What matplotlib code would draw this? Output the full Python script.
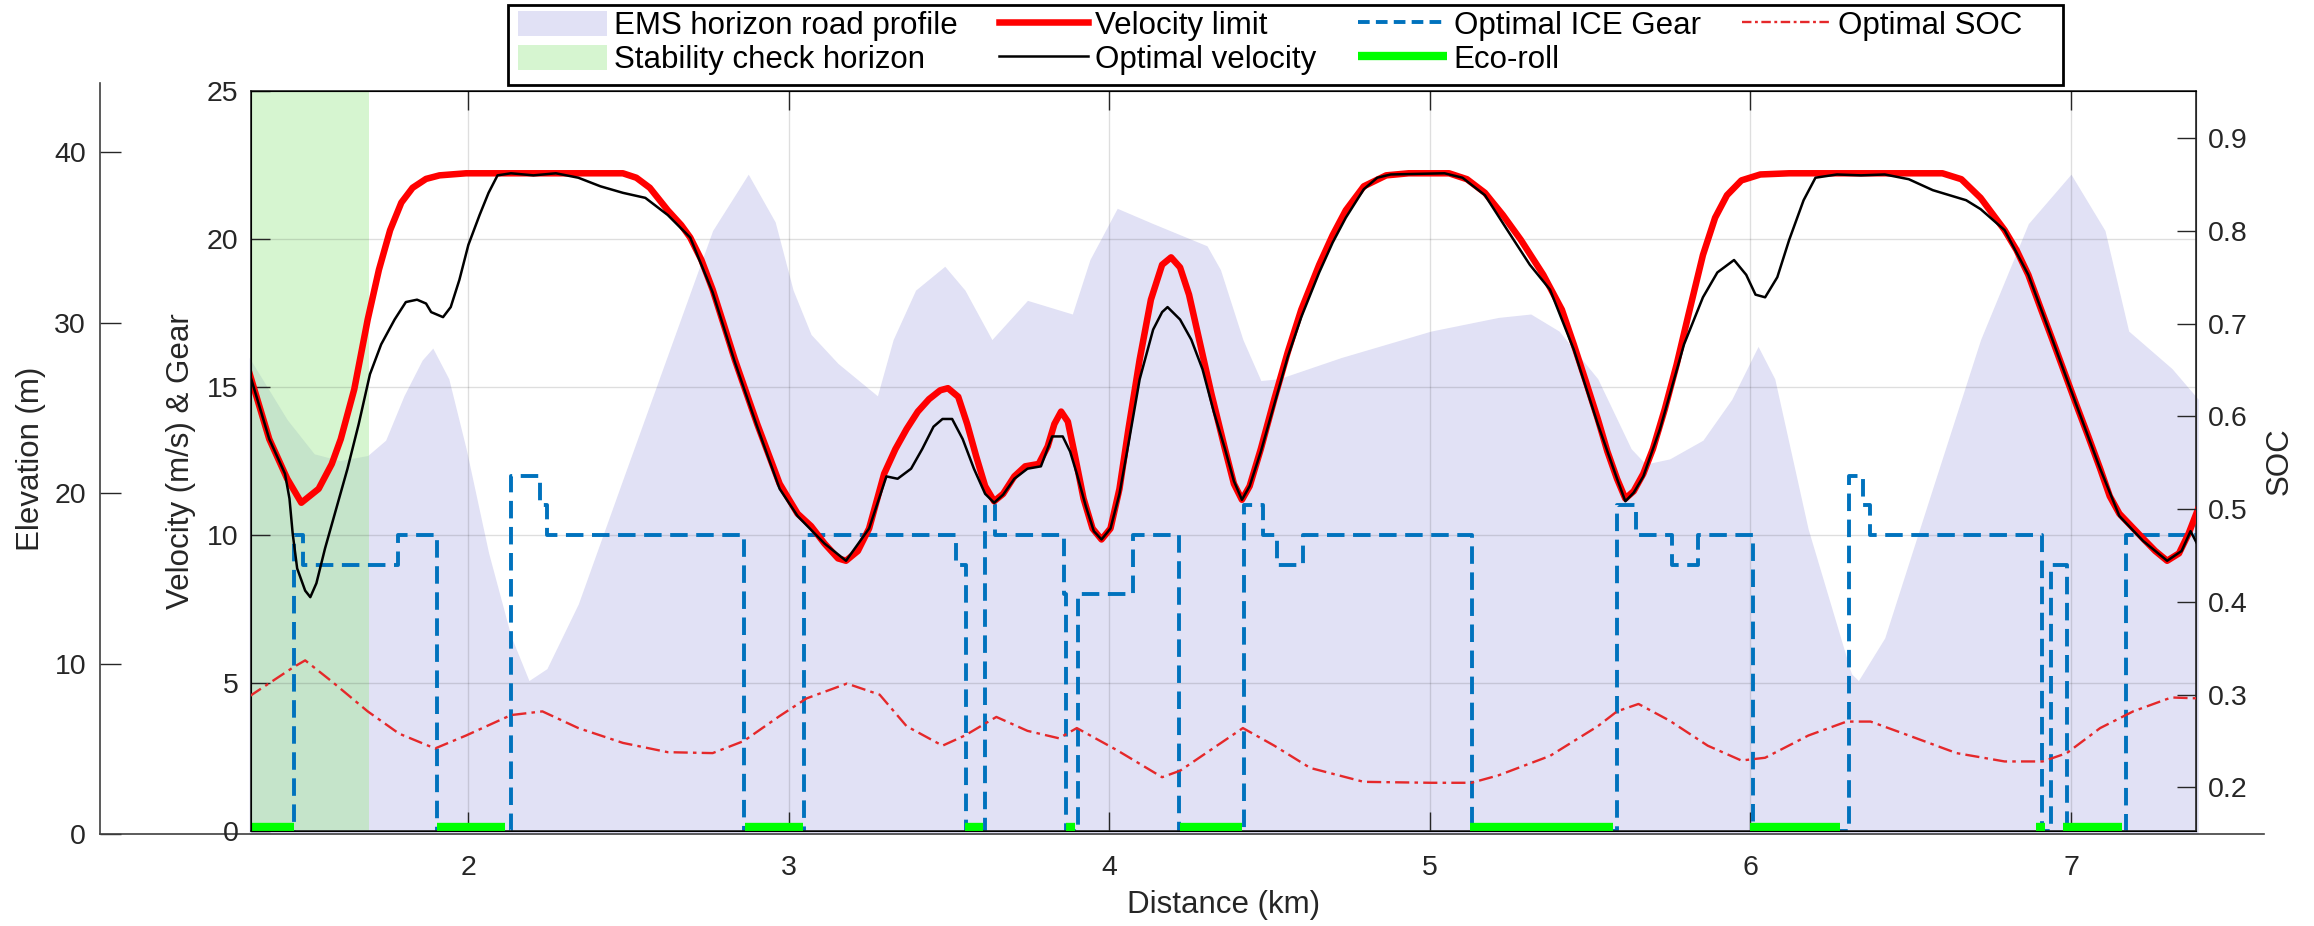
import matplotlib
matplotlib.use('Agg')
import matplotlib.pyplot as plt
from matplotlib.patches import Patch, Rectangle
from matplotlib.lines import Line2D

plt.rcParams['font.family'] = ['Liberation Sans', 'DejaVu Sans']

# ---- data ----
# road profile (km, m)
elev_km = [1.317, 1.436, 1.52, 1.60, 1.687, 1.743, 1.80, 1.857, 1.89, 1.94, 1.994, 2.064, 2.134,
           2.19, 2.246, 2.344, 2.483, 2.623, 2.763, 2.874, 2.958, 3.014, 3.07, 3.154, 3.277,
           3.326, 3.396, 3.487, 3.55, 3.634, 3.745, 3.885, 3.94, 4.025, 4.137, 4.305, 4.347,
           4.417, 4.473, 4.529, 4.724, 5.004, 5.214, 5.315, 5.403, 5.524, 5.628, 5.673, 5.748,
           5.852, 5.942, 6.024, 6.076, 6.18, 6.315, 6.337, 6.419, 6.569, 6.718, 6.867, 7.0,
           7.106, 7.18, 7.315, 7.397]
elev_m = [27.95, 24.3, 22.3, 21.9, 22.2, 23.1, 25.7, 27.8, 28.5, 26.7, 22.6, 16.5, 11.6,
          9.0, 9.7, 13.5, 20.8, 28.1, 35.4, 38.7, 35.9, 31.9, 29.3, 27.6, 25.7,
          29.0, 31.9, 33.3, 31.9, 29.0, 31.3, 30.5, 33.7, 36.7, 35.8, 34.5, 33.1,
          29.0, 26.6, 26.7, 27.95, 29.5, 30.3, 30.5, 29.5, 26.7, 22.6, 21.7, 22.0,
          23.1, 25.5, 28.6, 26.7, 17.9, 9.4, 9.0, 11.5, 20.3, 29.0, 35.8, 38.7,
          35.4, 29.5, 27.3, 25.5]

# velocity limit (km, m/s)
vlim_km = [1.317, 1.38, 1.436, 1.48, 1.534, 1.575, 1.603, 1.645, 1.687, 1.722, 1.757, 1.792,
           1.827, 1.869, 1.911, 1.994, 2.483, 2.525, 2.567, 2.623, 2.665, 2.693, 2.728, 2.763,
           2.798, 2.832, 2.867, 2.902, 2.937, 2.972, 3.028, 3.07, 3.112, 3.154, 3.179, 3.216,
           3.251, 3.298, 3.333, 3.368, 3.403, 3.438, 3.473, 3.497, 3.529, 3.557, 3.585, 3.613,
           3.641, 3.669, 3.704, 3.738, 3.78, 3.808, 3.829, 3.85, 3.871, 3.892, 3.92, 3.948,
           3.976, 4.004, 4.032, 4.06, 4.095, 4.13, 4.165, 4.193, 4.221, 4.249, 4.284, 4.319,
           4.361, 4.389, 4.414, 4.438, 4.473, 4.515, 4.557, 4.599, 4.655, 4.697, 4.738, 4.794,
           4.864, 4.934, 5.06, 5.116, 5.172, 5.228, 5.284, 5.354, 5.412, 5.449, 5.487, 5.524,
           5.554, 5.584, 5.61, 5.636, 5.666, 5.696, 5.733, 5.77, 5.807, 5.852, 5.89, 5.927,
           5.972, 6.031, 6.121, 6.599, 6.658, 6.718, 6.793, 6.83, 6.867, 6.904, 6.942, 6.979,
           7.016, 7.054, 7.091, 7.121, 7.151, 7.188, 7.225, 7.263, 7.3, 7.337, 7.367, 7.397]
vlim = [15.51, 13.24, 11.9, 11.09, 11.56, 12.4, 13.24, 14.92, 17.28, 18.96, 20.3, 21.23,
        21.73, 22.03, 22.15, 22.22, 22.22, 22.07, 21.73, 20.97, 20.47, 20.05, 19.29, 18.29,
        17.1, 15.93, 14.84, 13.75, 12.74, 11.73, 10.72, 10.3, 9.71, 9.21, 9.13, 9.46,
        10.22, 12.07, 12.9, 13.58, 14.17, 14.59, 14.89, 14.96, 14.67, 13.75, 12.66, 11.65,
        11.14, 11.39, 11.98, 12.32, 12.4, 12.99, 13.75, 14.17, 13.83, 12.74, 11.23, 10.22,
        9.85, 10.22, 11.56, 13.58, 15.93, 17.95, 19.13, 19.38, 19.04, 18.12, 16.44, 14.76,
        12.91, 11.73, 11.19, 11.65, 12.91, 14.59, 16.18, 17.61, 19.13, 20.13, 20.97, 21.78,
        22.15, 22.22, 22.22, 22.02, 21.56, 20.81, 19.97, 18.79, 17.61, 16.44, 15.18, 13.92,
        12.82, 11.9, 11.23, 11.48, 12.07, 12.91, 14.25, 15.76, 17.45, 19.46, 20.72, 21.48,
        21.98, 22.18, 22.22, 22.22, 22.02, 21.39, 20.3, 19.63, 18.79, 17.7, 16.6, 15.51,
        14.42, 13.33, 12.24, 11.31, 10.72, 10.3, 9.88, 9.46, 9.13, 9.38, 10.05, 10.89]

# optimal velocity (km, m/s)
vopt_km = [1.317, 1.38, 1.429, 1.443, 1.453, 1.467, 1.492, 1.508, 1.527, 1.554, 1.589, 1.624,
           1.659, 1.694, 1.729, 1.771, 1.806, 1.841, 1.869, 1.885, 1.922, 1.946, 1.973, 2.001,
           2.036, 2.064, 2.092, 2.134, 2.204, 2.274, 2.344, 2.413, 2.483, 2.553, 2.623, 2.693,
           2.763, 2.832, 2.902, 2.972, 3.028, 3.112, 3.179, 3.251, 3.305, 3.34, 3.382, 3.417,
           3.452, 3.48, 3.51, 3.543, 3.578, 3.613, 3.641, 3.669, 3.704, 3.745, 3.787, 3.822,
           3.855, 3.878, 3.899, 3.927, 3.952, 3.976, 4.004, 4.032, 4.06, 4.095, 4.137, 4.165,
           4.182, 4.221, 4.256, 4.291, 4.326, 4.361, 4.389, 4.414, 4.438, 4.473, 4.515, 4.557,
           4.599, 4.655, 4.697, 4.738, 4.794, 4.836, 4.878, 5.046, 5.102, 5.172, 5.242, 5.312,
           5.375, 5.449, 5.524, 5.584, 5.61, 5.636, 5.666, 5.718, 5.793, 5.852, 5.897, 5.949,
           5.987, 6.016, 6.046, 6.084, 6.121, 6.166, 6.203, 6.27, 6.345, 6.419, 6.494, 6.569,
           6.673, 6.718, 6.793, 6.867, 6.942, 7.016, 7.091, 7.151, 7.225, 7.3, 7.345, 7.373, 7.397]
vopt = [15.51, 13.24, 12.07, 11.23, 10.05, 8.87, 8.12, 7.9, 8.37, 9.55, 10.89, 12.24,
        13.75, 15.43, 16.44, 17.28, 17.87, 17.95, 17.82, 17.53, 17.36, 17.7, 18.62, 19.8,
        20.81, 21.56, 22.15, 22.22, 22.15, 22.22, 22.07, 21.78, 21.56, 21.39, 20.81, 20.05,
        18.2, 15.85, 13.66, 11.56, 10.64, 9.71, 9.13, 10.22, 11.98, 11.9, 12.24, 12.91,
        13.66, 13.92, 13.92, 13.24, 12.24, 11.39, 11.09, 11.36, 11.9, 12.24, 12.32, 13.33,
        13.33, 12.82, 12.07, 10.97, 10.13, 9.85, 10.22, 11.39, 13.08, 15.26, 16.94, 17.53,
        17.7, 17.28, 16.6, 15.6, 14.17, 12.91, 11.82, 11.19, 11.65, 12.82, 14.42, 16.02,
        17.36, 18.87, 19.88, 20.72, 21.68, 22.07, 22.18, 22.22, 22.07, 21.48, 20.3, 19.13,
        18.29, 16.27, 13.75, 11.9, 11.14, 11.43, 11.98, 13.58, 16.44, 18.03, 18.87, 19.29,
        18.79, 18.12, 18.03, 18.71, 19.97, 21.31, 22.07, 22.18, 22.15, 22.18, 22.02, 21.65,
        21.31, 21.01, 20.3, 18.79, 16.6, 14.42, 12.24, 10.64, 9.8, 9.13, 9.46, 10.13, 9.63]

# optimal ICE gear (step changes, km -> gear)
gear_km = [1.323, 1.457, 1.485, 1.781, 1.904, 2.134, 2.225, 2.246, 2.860, 3.049, 3.522, 3.553,
           3.613, 3.645, 3.860, 3.865, 3.902, 4.074, 4.218, 4.420, 4.480, 4.522, 4.606, 5.133,
           5.584, 5.643, 5.755, 5.837, 6.009, 6.307, 6.352, 6.372, 6.909, 6.937, 6.987, 7.173, 7.39]
gear = [0, 10, 9, 10, 0, 12, 11, 10, 0, 10, 9, 0,
        11, 10, 8, 0, 8, 10, 0, 11, 10, 9, 10, 0,
        11, 10, 9, 10, 0, 12, 11, 10, 0, 9, 0, 10, 10]

# optimal SOC (km, -)
soc_km = [1.317, 1.457, 1.492, 1.576, 1.687, 1.785, 1.897, 1.994, 2.134, 2.232, 2.344, 2.483,
          2.623, 2.763, 2.86, 2.972, 3.056, 3.182, 3.284, 3.368, 3.48, 3.55, 3.648, 3.745,
          3.843, 3.899, 4.025, 4.165, 4.221, 4.417, 4.515, 4.627, 4.794, 5.004, 5.13, 5.214,
          5.375, 5.524, 5.584, 5.651, 5.748, 5.867, 5.972, 6.046, 6.181, 6.30, 6.375, 6.494,
          6.643, 6.793, 6.912, 6.987, 7.091, 7.194, 7.313, 7.397]
soc = [0.298, 0.330, 0.337, 0.314, 0.282, 0.258, 0.242, 0.256, 0.278, 0.282, 0.264, 0.248,
       0.238, 0.237, 0.250, 0.277, 0.296, 0.312, 0.300, 0.266, 0.245, 0.256, 0.276, 0.261,
       0.253, 0.264, 0.240, 0.211, 0.218, 0.264, 0.245, 0.221, 0.206, 0.205, 0.205, 0.213,
       0.234, 0.266, 0.282, 0.290, 0.272, 0.245, 0.229, 0.232, 0.256, 0.271, 0.271, 0.256,
       0.237, 0.228, 0.228, 0.237, 0.264, 0.282, 0.297, 0.296]

# eco-roll intervals (km)
eco_start = [1.323, 1.904, 2.864, 3.55, 3.865, 4.22, 5.125, 6.0, 6.89, 6.975]
eco_end = [1.457, 2.115, 3.045, 3.606, 3.893, 4.414, 5.57, 6.28, 6.92, 7.16]

# stability check horizon (km)
stab_start, stab_end = 1.323, 1.69

x_min, x_max = 1.323, 7.39

# ---- figure ----
W, H = 2314, 926
fig = plt.figure(figsize=(W / 100, H / 100), dpi=100)


def box(l, t, r, b):
	return [l / W, 1 - b / H, (r - l) / W, (b - t) / H]


ax_l, ax_r = 251, 2196
el_l, el_r = 100, 2264
ax_e = fig.add_axes(box(el_l, 83, el_r, 834))
ax = fig.add_axes(box(ax_l, 91, ax_r, 831))
ax.patch.set_visible(False)
ax_s = ax.twinx()

tick_fs = 20.5
label_fs = 22.5
txt = '#262626'

# elevation axes (behind)
kpp = (x_max - x_min) / (ax_r - ax_l)
ax_e.set_xlim(x_min - (ax_l - el_l) * kpp, x_max + (el_r - ax_r) * kpp)
ax_e.fill_between(elev_km, elev_m, color='#e1e1f5', lw=0)
ax_e.set_ylim(0, 44.05)
ax_e.set_yticks([0, 10, 20, 30, 40])
ax_e.set_xticks([])
ax_e.spines['top'].set_visible(False)
ax_e.spines['right'].set_visible(False)
for s in ['left', 'bottom']:
	ax_e.spines[s].set_color('#404040')
	ax_e.spines[s].set_linewidth(1.2)
ax_e.tick_params(axis='y', direction='in', length=15, width=1, labelsize=tick_fs, pad=10,
                 colors=txt)
ax_e.set_ylabel('Elevation (m)', fontsize=label_fs, color=txt, labelpad=6)

# main axes
green = (160 / 255, 232 / 255, 146 / 255)
ax.axvspan(stab_start, stab_end, color=green, alpha=0.43, lw=0, zorder=0.5)
ax.plot(gear_km, gear, drawstyle='steps-post', color='#0072BD', lw=2.8, dashes=(4.5, 2.2),
        zorder=2)
ax.plot(vlim_km, vlim, color='#ff0000', lw=4.7, zorder=3, solid_joinstyle='round')
ax.plot(vopt_km, vopt, color='black', lw=1.8, zorder=4)
for s, e in zip(eco_start, eco_end):
	ax.plot([s, e], [0.12, 0.12], color='#00ff00', lw=6, solid_capstyle='butt', zorder=5)

ax.set_xlim(x_min, x_max)
ax.set_ylim(0, 25)
ax.set_xticks([2, 3, 4, 5, 6, 7])
ax.set_yticks([0, 5, 10, 15, 20, 25])
ax.grid(True, color='#262626', alpha=0.15, lw=1)
ax.set_axisbelow(True)
ax.tick_params(axis='x', direction='in', length=14, width=1, top=True, labelsize=tick_fs,
               pad=17, colors=txt)
ax.tick_params(axis='y', direction='in', length=14, width=1, right=False, labelsize=tick_fs,
               pad=9, colors=txt)
for s in ax.spines.values():
	s.set_color('#262626')
	s.set_linewidth(1.2)
ax.set_xlabel('Distance (km)', fontsize=label_fs, color=txt, labelpad=7)
ax.set_ylabel('Velocity (m/s) & Gear', fontsize=label_fs, color=txt, labelpad=8)

# SOC axis
soc_color = '#e5282a'
ax_s.plot(soc_km, soc, color=soc_color, lw=1.7, linestyle=(0, (6, 2.2, 1.5, 2.2)), zorder=3)
ax_s.set_ylim(0.153, 0.951)
ax_s.set_yticks([0.2, 0.3, 0.4, 0.5, 0.6, 0.7, 0.8, 0.9])
ax_s.tick_params(axis='y', direction='in', length=14, width=1, labelsize=tick_fs, pad=8.5,
                 colors=txt)
ax_s.spines['right'].set_color('#262626')
ax_s.set_ylabel('SOC', fontsize=label_fs, color=txt, labelpad=12)

# legend frame drawn separately (MATLAB style box with extra right padding)
fig.patches.append(Rectangle((508 / W, 1 - 85 / H), (2063 - 508) / W, 80 / H,
                             transform=fig.transFigure, facecolor='white', edgecolor='black',
                             lw=2, zorder=4))
handles = [
	Patch(facecolor='#e1e1f5', edgecolor='none'),
	Patch(facecolor=green, alpha=0.43, edgecolor='none'),
	Line2D([], [], color='#ff0000', lw=4.7),
	Line2D([], [], color='black', lw=1.8),
	Line2D([], [], color='#0072BD', lw=2.8, dashes=(3.0, 1.6)),
	Line2D([], [], color='#00ff00', lw=6, solid_capstyle='butt'),
	Line2D([], [], color=soc_color, lw=1.7, linestyle=(0, (4, 1.5, 1.2, 1.5))),
]
labels = ['EMS horizon road profile', 'Stability check horizon', 'Velocity limit',
          'Optimal velocity', 'Optimal ICE Gear', 'Eco-roll', 'Optimal SOC']
leg = fig.legend(handles, labels, ncol=4, loc='upper left',
                 bbox_to_anchor=(512 / W, 1 - 5 / H), fontsize=22.5, frameon=False,
                 handlelength=2.85, handleheight=0.85, handletextpad=0.22,
                 columnspacing=1.33, labelspacing=0.12, borderpad=0.18, borderaxespad=0)
leg.set_zorder(5)

fig.savefig('out.png', dpi=100)
